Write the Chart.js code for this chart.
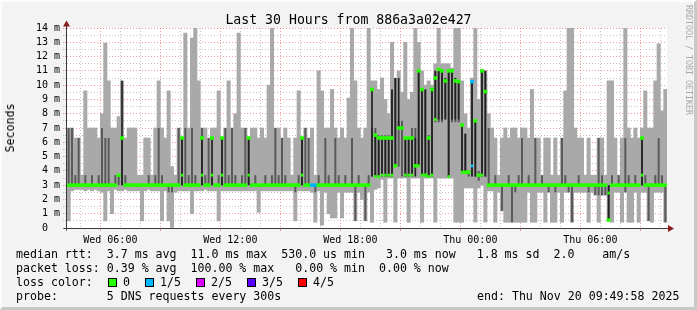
<!DOCTYPE html>
<html lang="en">
<head>
<meta charset="UTF-8">
<title>Last 30 Hours from 886a3a02e427</title>
<script src="https://cdn.jsdelivr.net/npm/chart.js"></script>
<style>
  * { margin: 0; padding: 0; box-sizing: border-box; }
  body {
    width: 697px; height: 310px; position: relative; overflow: hidden;
    background: #f3f3f3; color: #000;
    font-family: "DejaVu Sans Mono", monospace;
  }
  #c { position: absolute; left: 0; top: 0; }
  #frame {
    position: absolute; left: 0; top: 0; width: 697px; height: 310px; pointer-events: none;
    border-top: 2px solid #fcfcfc; border-left: 2px solid #fcfcfc;
    border-right: 3px solid #c8c8c8; border-bottom: 3px solid #c8c8c8;
  }
  .t { position: absolute; white-space: pre; font-size: 11.6px; line-height: 14px; }
  #title { position: absolute; left: 0; top: 12px; width: 697px; text-align: center;
           font-size: 13.2px; line-height: 16px; white-space: pre; }
  #ylab { position: absolute; left: 10px; top: 128px; font-size: 11.6px; line-height: 14px;
          transform: translate(-50%, -50%) rotate(-90deg); white-space: pre; }
  #sig { position: absolute; left: 684px; top: 5px; writing-mode: vertical-rl;
         font-size: 8.3px; color: #a8a8a8; white-space: pre; }
  .box { position: absolute; width: 9px; height: 9px; border: 1px solid #000; }
</style>
</head>
<body>
<canvas id="c" width="697" height="310"></canvas>
<div id="title">Last 30 Hours from 886a3a02e427</div>
<div id="ylab">Seconds</div>
<div id="sig">RRDTOOL / TOBI OETIKER</div>
<div class="t" style="left:16px; top:247px">median rtt:  3.7 ms avg  11.0 ms max  530.0 us min   3.0 ms now   1.8 ms sd  2.0    am/s</div>
<div class="t" style="left:16px; top:261px">packet loss: 0.39 % avg  100.00 % max   0.00 % min  0.00 % now</div>
<div class="t" style="left:16px; top:275px">loss color:</div>
<div id="lossLegend"></div>
<div class="t" style="left:16px; top:289px">probe:       5 DNS requests every 300s</div>
<div class="t" style="left:477px; top:289px">end: Thu Nov 20 09:49:58 2025</div>
<div id="frame"></div>

<script>
  // one sample every 10 minutes, first sample starts Wed 03:50
  const STEP = 10;
  const SPAN = 1800;

  // light smoke: top and bottom of the ping spread (ms)
  const hi = [
    7, 7, 6.3, 6.3, 3.7, 9.6, 7, 7, 7, 6.3,
    8, 12.95, 10.3, 7, 7, 7.8, 10.3, 6.3, 7, 7,
    7, 3.7, 3.7, 6.3, 6.3, 3.7, 7, 10.3, 7, 6.3,
    9.6, 4.3, 3.7, 7, 6.3, 13.65, 7, 13.3, 14, 10.3,
    7, 7, 6.3, 7, 7, 9.6, 6.3, 7, 10.3, 7,
    8, 13.65, 7, 7, 6.3, 7, 7, 6.3, 7, 6.3,
    10, 14, 7, 7, 6.3, 7, 6.3, 3.7, 6.3, 9.6,
    6.3, 7, 6.3, 7, 3.7, 11, 9.6, 7, 7, 9.7,
    7, 6.3, 7, 6.3, 9.1, 14, 10.3, 7, 6.3, 7,
    14, 10.3, 10.3, 9.7, 10.5, 9, 8, 13, 10.5, 11,
    9.5, 13, 9, 9.5, 14, 13, 11, 10, 10.3, 10,
    11.5, 14, 11.5, 11.5, 11.5, 11.2, 14, 14, 10.3, 8,
    7, 10.5, 14, 9, 11, 11, 8, 7, 6.3, 3.7,
    6.3, 7, 6.3, 7, 7, 6.3, 7, 7, 6.3, 9.7,
    6.3, 6.3, 3.7, 6.3, 6.3, 3.7, 6.3, 3.7, 6.3, 9.6,
    14, 14, 7, 6.3, 6.3, 3.7, 6.3, 3.7, 3.7, 6.3,
    6.3, 3.7, 10.3, 10.3, 6.3, 3.7, 6.3, 14, 7, 6.3,
    7, 6.3, 7, 9.6, 7, 7, 10.3, 12.9, 8.2, 9.7
  ];
  const lo = [
    0.5, 2.6, 2.7, 2.7, 2.7, 2.6, 2.7, 2.6, 2.7, 2.6,
    2.5, 0.5, 2.6, 1.0, 2.7, 2.6, 2.6, 2.7, 2.6, 2.6,
    2.6, 2.6, 0.5, 2.6, 2.7, 2.6, 2.6, 2.6, 0.5, 2.6,
    0.5, 0.0, 2.5, 2.6, 2.6, 2.6, 2.6, 1.0, 2.6, 2.6,
    2.6, 2.7, 2.6, 2.6, 2.6, 0.5, 2.6, 2.6, 2.6, 2.6,
    2.6, 2.6, 2.6, 2.6, 2.6, 2.6, 2.6, 1.1, 2.6, 2.6,
    2.6, 2.6, 2.6, 2.6, 2.6, 2.6, 2.6, 2.6, 0.5, 2.6,
    2.6, 2.6, 2.6, 2.5, 0.4, 2.6, 0.2, 2.5, 1.0, 0.7,
    0.7, 2.5, 0.7, 2.5, 2.5, 2.5, 0.5, 2.5, 2.0, 0.5,
    2.5, 0.4, 2.7, 2.8, 3.4, 0.4, 3.5, 3.5, 0.4, 3.5,
    3.5, 3.5, 0.4, 3.5, 3.5, 3.5, 0.4, 3.5, 3.5, 3.5,
    0.4, 3.5, 3.5, 3.5, 3.5, 3.5, 0.4, 0.4, 0.4, 2.8,
    2.8, 2.8, 0.4, 2.8, 3.0, 0.4, 2.6, 2.6, 0.4, 2.5,
    1.2, 0.4, 0.4, 0.4, 0.4, 0.4, 0.4, 0.4, 2.5, 0.4,
    0.4, 2.5, 2.5, 0.4, 2.5, 0.4, 0.4, 2.5, 0.4, 2.5,
    2.5, 0.4, 2.5, 2.5, 2.5, 2.5, 0.4, 2.5, 2.3, 0.4,
    2.3, 2.3, 0.5, 0.4, 2.5, 2.5, 0.4, 2.5, 0.4, 0.4,
    2.5, 0.4, 2.5, 2.5, 0.5, 0.4, 2.5, 2.5, 2.5, 0.4
  ];

  // dark smoke: the pings closest to the median
  const darkLo = [
    3, 3, 3, 3, null, 3, null, 3, null, 3,
    3, 3, 3, null, 3, 3, 3, 3, null, null,
    null, null, null, null, 3, null, 3, 3, 3, null,
    2.5, 2.5, null, 3, 3, 3, 3, 3, 3, null,
    3, 3, 3, 3, null, 3, 3, 3, 3, 3,
    3, null, 3, 3, 3, null, 3, null, null, 3,
    null, 3, 3, 3, 3, 3, null, null, 2.5, 3,
    3, 3, 3, null, 2.5, 3, null, 3, 3, null,
    3, 3, null, 3, null, 3, 0.5, 3, null, 0.5,
    3, 3.6, 3.6, 3.6, 3.6, 3.6, 3.6, 3.6, 4.3, 4.3,
    3.6, 3.6, 3.6, 3.6, 4.3, 4.3, 3.6, 3.6, 3.6, 3.6,
    7.4, 7.4, 7.4, 7.6, 3.6, 7.4, 7.4, 7.4, 3.9, 3.9,
    3.6, 3.6, 3.6, 3.3, 3.6, 3.6, 3, null, 3, null,
    1.2, null, 3, 0.4, 2.5, 3, 3, null, 3, null,
    3, null, 3, null, 2.5, null, 2.5, null, 3, 3,
    2.5, 0.4, null, 3, null, null, 2.5, null, 2.3, 2.3,
    2.3, 2.3, 0.5, 3, null, 3, null, 2.5, 3, null,
    3, null, 3, 3, 0.5, null, 3, 3, 3, 0.4
  ];
  const darkHi = [
    7, 7, 3.7, 6.3, null, 3.7, null, 3.7, null, 3.7,
    7, 6.3, 6.3, null, 3.7, 3.7, 6.3, 3.7, null, null,
    null, null, null, null, 3.7, null, 3.7, 7, 3.7, null,
    3, 3, null, 7, 6.3, 7, 3.7, 7, 3.7, null,
    7, 3.7, 6.3, 3.7, null, 3.7, 6.3, 7, 3.7, 7,
    3.7, null, 3.7, 7, 6.3, null, 3.7, null, null, 3.7,
    null, 3.7, 7, 3.7, 6.3, 3.7, null, null, 3, 3.7,
    6.3, 7, 6.3, null, 3, 3.7, null, 6.3, 3.7, null,
    6.3, 3.7, null, 3.7, null, 6.3, 3, 3.7, null, 3,
    3.7, 7, 7, 6.5, 6.5, 6.5, 6.5, 9.7, 10.5, 7.5,
    7.5, 6.3, 6.3, 7, 7, 11, 9.7, 9.7, 6.5, 9.7,
    11, 11.2, 11, 10.5, 11, 11, 10.5, 10.3, 7.2, 6.6,
    4, 10.3, 7.5, 4, 11, 11, 7, null, 3.7, null,
    3, null, 3.7, 3, 3, 3.7, 6.3, null, 3.7, null,
    6.3, null, 3.7, null, 3, null, 3, null, 6.3, 3.7,
    3, 3, null, 3.7, null, null, 3, null, 3, 6.3,
    3.7, 3, 3, 3.7, null, 3.7, null, 6.3, 3.7, null,
    3.7, null, 6.3, 3.7, 3, null, 3.7, 6.3, 3.7, 3
  ];

  // darkest streaks where the median jumps
  const blackAt = [16, 34, 40, 43, 46, 54, 70, 91, 92, 93, 94, 95, 96, 97, 98, 99,
    101, 102, 103, 104, 105, 106, 107, 108, 109, 110, 111, 112, 113, 114, 115, 116, 117, 118, 119,
    121, 122, 124, 125, 162, 172];
  const blackLo = [3, 3, 3, 3, 3, 3, 3, 3.6, 3.6, 3.6, 3.6, 3.6, 3.6, 3.6, 4.35, 7,
    3.6, 3.6, 3.6, 3.6, 4.35, 3.7, 3.7, 3.6, 3.6, 7.6, 7.6, 7.6, 7.6, 3.6, 7.6, 7.6, 7.6, 3.9, 3.9,
    3.6, 3.6, 3.6, 3.6, 0.55, 3];
  const blackHi = [10.3, 6.3, 6.3, 6.3, 6.3, 6.3, 6.3, 9.7, 6.5, 6.3, 6.3, 6.3, 6.3, 9.7, 10.5, 10.5,
    6.3, 6.3, 6.3, 6.3, 11, 9.7, 9.7, 6.3, 9.7, 11, 11.1, 11, 10.5, 11, 11, 10.5, 10.25, 7.2, 6.6,
    10.25, 7.5, 11, 11, 3, 6.3];

  // median rtt (ms)
  const median = [
    3, 3, 3, 3, 3, 3, 3, 3, 3, 3,
    3, 3, 3, 3, 3, 3.7, 6.3, 3, 3, 3,
    3, 3, 3, 3, 3, 3, 3, 3, 3, 3,
    3, 3, 3, 3, 6.3, 3, 3, 3, 3, 3,
    6.3, 3, 3, 6.3, 3, 3, 6.3, 3, 3, 3,
    3, 3, 3, 3, 6.3, 3, 3, 3, 3, 3,
    3, 3, 3, 3, 3, 3, 3, 3, 3, 3,
    6.3, 3, 3, 3, 3, 3, 3, 3, 3, 3,
    3, 3, 3, 3, 3, 3, 3, 3, 3, 3,
    3, 9.7, 6.5, 6.3, 6.3, 6.3, 6.3, 6.3, 4.35, 7,
    7, 6.3, 6.3, 6.3, 4.35, 11, 9.7, 3.7, 6.3, 9.7,
    10.5, 11.1, 11, 10.3, 11, 11, 10.3, 10.25, 7.2, 3.9,
    3.9, 10.25, 7.5, 3.7, 11, 9.55, 3, 3, 3, 3,
    3, 3, 3, 3, 3, 3, 3, 3, 3, 3,
    3, 3, 3, 3, 3, 3, 3, 3, 3, 3,
    3, 3, 3, 3, 3, 3, 3, 3, 3, 3,
    3, 3, 0.55, 3, 3, 3, 3, 3, 3, 3,
    3, 3, 6.3, 3, 3, 3, 3, 3, 3, 3
  ];
  // second median reading inside a sample, where the median jumped within it
  const medianLowAt = [34, 40, 43, 46, 54, 70, 92, 93, 94, 95, 96, 97, 101, 102, 103,
    105, 106, 108, 109, 110, 114, 118, 121, 124, 162, 172];
  const medianLow = [3.7, 3.7, 3.7, 3.7, 3.7, 3.7, 3.6, 3.6, 3.7, 3.7, 3.7, 3.7, 3.7, 3.7, 3.7,
    4.35, 3.7, 3.6, 3.7, 7.6, 3.6, 3.9, 4.35, 3.7, 2.45, 3.7];

  // samples with lost pings (out of 5)
  const lossAt = [73, 74, 121];
  const lossLevel = [1, 1, 1];
  const lossLabels = ['0', '1/5', '2/5', '3/5', '4/5'];
  const lossColors = ['#26ff00', '#00b8ff', '#e000ff', '#5a00ff', '#ff0000'];

  // time axis
  const hourTicks = [];
  for (let m = 10; m < SPAN; m += 60) hourTicks.push(m);
  const xLabels = ['Wed 06:00', 'Wed 12:00', 'Wed 18:00', 'Thu 00:00', 'Thu 06:00'];
  const xLabelMinutes = [130, 490, 850, 1210, 1570];
  const yMax = 14;

  const xs = hi.map((_, i) => i * STEP + STEP / 2);
  const lossOf = hi.map(() => 0);
  lossAt.forEach((idx, k) => { lossOf[idx] = lossLevel[k]; });

  const lightData = xs.map((x, i) => ({x, y: [lo[i], hi[i]]}));
  const darkData = xs.map((x, i) => darkLo[i] === null ? null : {x, y: [darkLo[i], darkHi[i]]}).filter(p => p);
  const blackData = blackAt.map((idx, k) => ({x: xs[idx], y: [blackLo[k], blackHi[k]]}));
  const medianData = xs.map((x, i) => ({x, y: [median[i] - 0.1, median[i] + 0.1], loss: lossOf[i]}));
  const medianLowData = medianLowAt.map((idx, k) => ({x: xs[idx], y: [medianLow[k] - 0.1, medianLow[k] + 0.1], loss: lossOf[idx]}));

  // legend swatches for loss colours
  const swatchX = [108, 145, 196, 247, 298];
  const legendBox = document.getElementById('lossLegend');
  lossLabels.forEach((lab, k) => {
    const b = document.createElement('div');
    b.className = 'box';
    b.style.left = swatchX[k] + 'px';
    b.style.top = '278px';
    b.style.background = lossColors[k];
    legendBox.appendChild(b);
    const t = document.createElement('div');
    t.className = 't';
    t.style.left = (swatchX[k] + 15) + 'px';
    t.style.top = '275px';
    t.textContent = lab;
    legendBox.appendChild(t);
  });

  const isMajorHour = v => ((4 + (v - 10) / 60) % 3) === 0;
  const isWhole = v => Math.abs(v - Math.round(v)) < 1e-6;
  const MGRID = 'rgba(235, 60, 60, 0.5)';
  const GRID = 'rgba(140, 140, 140, 0.5)';

  const axes = {
    id: 'axes',
    beforeDraw(chart) {
      const {ctx, chartArea: a} = chart;
      ctx.save();
      ctx.fillStyle = '#ffffff';
      ctx.fillRect(a.left, a.top, a.right - a.left, a.bottom - a.top);
      ctx.restore();
    },
    afterDraw(chart) {
      const {ctx, chartArea: a} = chart;
      const x0 = Math.round(a.left) - 0.5;
      const y0 = Math.round(a.bottom) + 0.5;
      ctx.save();
      ctx.strokeStyle = '#3a3a3a';
      ctx.lineWidth = 1;
      ctx.beginPath();
      ctx.moveTo(x0, y0 + 2);
      ctx.lineTo(x0, a.top - 3);
      ctx.moveTo(x0 - 3, y0);
      ctx.lineTo(a.right + 2, y0);
      ctx.stroke();
      ctx.fillStyle = '#8c1c1c';
      ctx.beginPath();
      ctx.moveTo(x0 - 3.5, a.top - 1.5);
      ctx.lineTo(x0 + 3.5, a.top - 1.5);
      ctx.lineTo(x0, a.top - 7.5);
      ctx.closePath();
      ctx.fill();
      ctx.beginPath();
      ctx.moveTo(a.right + 1, y0 - 3.5);
      ctx.lineTo(a.right + 1, y0 + 3.5);
      ctx.lineTo(a.right + 7, y0);
      ctx.closePath();
      ctx.fill();
      ctx.restore();
    }
  };

  const common = {grouped: false, borderWidth: 0, categoryPercentage: 1, barPercentage: 1};
  const byLoss = ctx => lossColors[(ctx.raw && ctx.raw.loss) || 0];

  new Chart(document.getElementById('c'), {
    type: 'bar',
    data: {
      datasets: [
        Object.assign({label: 'median', data: medianData, order: 0, backgroundColor: byLoss}, common),
        Object.assign({label: 'median low', data: medianLowData, order: 0, backgroundColor: byLoss}, common,
          {barPercentage: 0.75}),
        Object.assign({label: 'black', data: blackData, order: 1, backgroundColor: '#202020'}, common,
          {barPercentage: 0.5}),
        Object.assign({label: 'dark', data: darkData, order: 2, backgroundColor: '#5a5a5a'}, common,
          {barPercentage: 0.6}),
        Object.assign({label: 'light', data: lightData, order: 3, backgroundColor: '#a9a9a9'}, common)
      ]
    },
    options: {
      responsive: false,
      devicePixelRatio: 1,
      animation: false,
      events: [],
      layout: {padding: {left: 0, right: 30, top: 28, bottom: 0}},
      plugins: {legend: {display: false}, tooltip: {enabled: false}, title: {display: false}},
      scales: {
        x: {
          type: 'linear', min: 0, max: SPAN, offset: false,
          afterFit: s => { s.height = 82; },
          afterBuildTicks: s => { s.ticks = hourTicks.map(v => ({value: v})); },
          ticks: {
            autoSkip: false, maxRotation: 0, padding: 3, color: '#000',
            font: {family: 'DejaVu Sans Mono', size: 10},
            callback: v => {
              const k = xLabelMinutes.indexOf(v);
              return k < 0 ? '' : xLabels[k];
            }
          },
          grid: {
            color: c => (c.tick && isMajorHour(c.tick.value)) ? MGRID : GRID,
            tickColor: c => (c.tick && isMajorHour(c.tick.value)) ? MGRID : 'rgba(0,0,0,0)',
            tickLength: 3, lineWidth: 1
          },
          border: {display: false, dash: [1, 2]}
        },
        y: {
          min: 0, max: yMax,
          afterFit: s => { s.width = 67; },
          ticks: {
            stepSize: 0.5, autoSkip: false, padding: 3, color: '#000',
            font: {family: 'DejaVu Sans Mono', size: 10},
            callback: v => isWhole(v) ? (Math.round(v) === 0 ? '0  ' : Math.round(v) + ' m') : ''
          },
          grid: {
            color: c => (c.tick && isWhole(c.tick.value)) ? MGRID : GRID,
            tickColor: c => (c.tick && isWhole(c.tick.value)) ? MGRID : GRID,
            tickLength: 4, lineWidth: 1, tickBorderDash: [1, 1]
          },
          border: {display: false, dash: [1, 2]}
        }
      }
    },
    plugins: [axes]
  });
</script>
</body>
</html>
